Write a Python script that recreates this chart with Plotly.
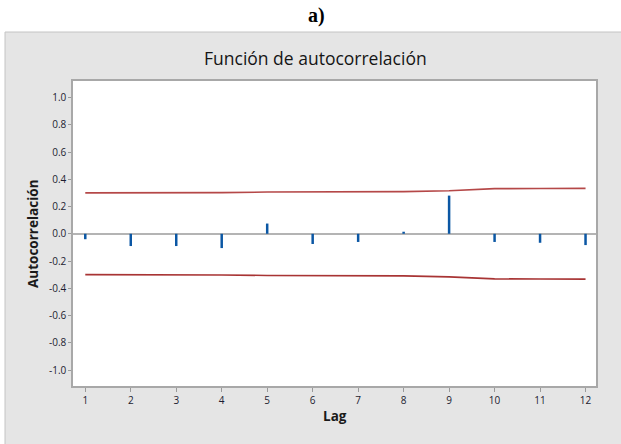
import plotly.graph_objects as go

lags = [1, 2, 3, 4, 5, 6, 7, 8, 9, 10, 11, 12]
acf = [-0.04, -0.09, -0.09, -0.105, 0.075, -0.075, -0.06, 0.015, 0.28, -0.06, -0.066, -0.083]
upper_limit = [0.300, 0.300, 0.301, 0.302, 0.306, 0.307, 0.308, 0.309, 0.316, 0.331, 0.332, 0.333]
lower_limit = [-v for v in upper_limit]
y_ticks = [1.0, 0.8, 0.6, 0.4, 0.2, 0.0, -0.2, -0.4, -0.6, -0.8, -1.0]
y_tick_text = ["1.0", "0.8", "0.6", "0.4", "0.2", "0.0", "-0.2", "-0.4", "-0.6", "-0.8", "-1.0"]

W, H = 621, 444
L, R, T, B = 73, 25, 81, 58
pw, ph = W - L - R, H - T - B

def px(x):
    return (x - L) / pw

def py(y):
    return (H - B - y) / ph

fig = go.Figure()
fig.add_trace(go.Scatter(x=lags, y=upper_limit, mode="lines",
                         line=dict(color="#b54848", width=1.6), hoverinfo="skip"))
fig.add_trace(go.Scatter(x=lags, y=lower_limit, mode="lines",
                         line=dict(color="#a83434", width=1.6), hoverinfo="skip"))
fig.add_trace(go.Bar(x=lags, y=acf, width=0.055, marker=dict(color="#0b57a4", line=dict(width=0))))

fig.update_layout(
    width=W, height=H,
    margin=dict(l=L, r=R, t=T, b=B),
    paper_bgcolor="white",
    plot_bgcolor="white",
    showlegend=False,
    font=dict(family="Open Sans, sans-serif", color="#1c1c30"),
    shapes=[
        dict(type="rect", xref="paper", yref="paper", x0=px(5), x1=px(622), y0=py(445), y1=py(32),
             fillcolor="#e5e5e5", line=dict(color="#c4c4c4", width=1), layer="below"),
        dict(type="rect", xref="paper", yref="paper", x0=0, x1=1, y0=0, y1=1,
             fillcolor="white", line=dict(width=0), layer="below"),
    ],
    annotations=[
        dict(text="<b>a)</b>", xref="paper", yref="paper", x=px(316), y=py(15), showarrow=False,
             font=dict(family="'Liberation Serif', 'DejaVu Serif', serif", size=20, color="black"),
             xanchor="center", yanchor="middle"),
        dict(text="Función de autocorrelación", xref="paper", yref="paper", x=px(315), y=py(58),
             showarrow=False, font=dict(size=17.5, color="#151515"), xanchor="center", yanchor="middle"),
        dict(text="<b>Lag</b>", xref="paper", yref="paper", x=px(335), y=py(416), showarrow=False,
             font=dict(size=13.5, color="#1a1a1a"), xanchor="center", yanchor="middle"),
        dict(text="<b>Autocorrelación</b>", xref="paper", yref="paper", x=px(33), y=py(234), showarrow=False,
             textangle=-90, font=dict(size=13.5, color="#1a1a1a"), xanchor="center", yanchor="middle"),
    ],
)
fig.update_xaxes(range=[0.73, 12.23], tickvals=lags, ticks="outside", ticklen=4, tickcolor="#9a9a9a",
                 showline=True, linecolor="#a8a8a8", linewidth=1.5, mirror=True, showgrid=False,
                 zeroline=False, tickfont=dict(size=10))
fig.update_yaxes(range=[-1.117, 1.121], tickvals=y_ticks, ticktext=y_tick_text, ticks="outside", ticklen=3,
                 tickcolor="#9a9a9a", showline=True, linecolor="#a8a8a8", linewidth=1.5, mirror=True,
                 showgrid=False, zeroline=True, zerolinecolor="#b4b4b4", zerolinewidth=1.8,
                 tickfont=dict(size=10))

fig.write_html("out.html")
